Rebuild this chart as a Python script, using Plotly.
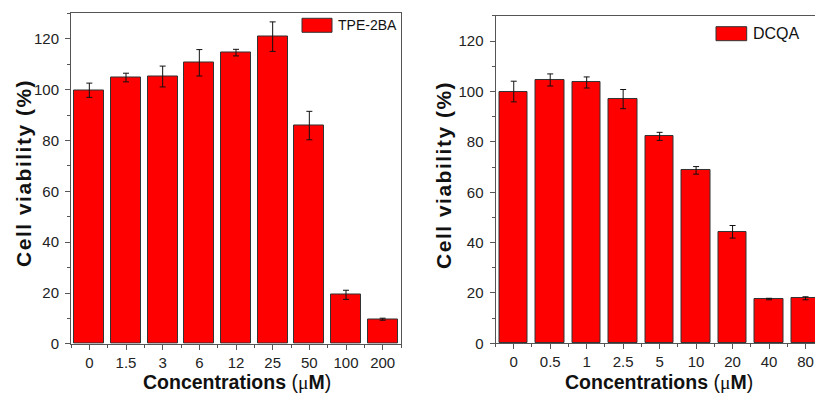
import plotly.graph_objects as go

W, H = 815, 398
K = 406 / 398  # the page capture squeezes the figure vertically by ~398/406

# ---- data ----
tpe_conc = ["0", "1.5", "3", "6", "12", "25", "50", "100", "200"]
tpe_viab = [99.8, 104.8, 105.2, 110.6, 114.6, 120.9, 85.9, 19.3, 9.7]
tpe_err = [2.8, 1.7, 4.1, 5.2, 1.3, 5.8, 5.6, 1.8, 0.4]

dcqa_conc = ["0", "0.5", "1", "2.5", "5", "10", "20", "40", "80"]
dcqa_viab = [100.0, 104.6, 103.6, 97.0, 82.2, 68.7, 44.3, 17.6, 17.9]
dcqa_err = [4.1, 2.4, 2.2, 3.8, 1.6, 1.5, 2.5, 0.3, 0.6]

y_ticks = [0, 20, 40, 60, 80, 100, 120]

FONT = "Arial, Liberation Sans, sans-serif"
AXC = "#555555"


def px(x):
    return x / W


def py(y):
    return max(0.0, 1 - y * K / H)


fig = go.Figure()

fig.add_trace(go.Bar(
    x=list(range(len(tpe_conc))), y=tpe_viab,
    error_y=dict(type="data", array=tpe_err, color="#111111", thickness=1, width=3),
    marker=dict(color="#ff0000", line=dict(color="#333333", width=1)),
    width=0.82, xaxis="x", yaxis="y", showlegend=False,
))
fig.add_trace(go.Bar(
    x=list(range(len(dcqa_conc))), y=dcqa_viab,
    error_y=dict(type="data", array=dcqa_err, color="#111111", thickness=1, width=3),
    marker=dict(color="#ff0000", line=dict(color="#333333", width=1)),
    width=0.78, xaxis="x2", yaxis="y2", showlegend=False,
))

tickfont = dict(family=FONT, size=15, color="#222222")

common_x = dict(
    showgrid=False, zeroline=False, showline=True, linecolor=AXC, linewidth=1,
    ticks="outside", ticklen=5, tickcolor=AXC, tickfont=tickfont,
    minor=dict(ticks="outside", ticklen=3, tick0=0.5, dtick=1, tickcolor=AXC, showgrid=False),
    mirror=True, fixedrange=True,
)
common_y = dict(
    showgrid=False, zeroline=False, showline=True, linecolor=AXC, linewidth=1,
    ticks="outside", ticklen=5, tickcolor=AXC, tickfont=tickfont,
    range=[0, 130], tickvals=y_ticks,
    minor=dict(ticks="outside", ticklen=3, tick0=10, dtick=20, tickcolor=AXC, showgrid=False),
    ticklabelstandoff=3,
)

fig.update_layout(
    width=W, height=H,
    margin=dict(l=0, r=0, t=0, b=0),
    paper_bgcolor="white", plot_bgcolor="white",
    font=dict(family=FONT, color="#111111"),
    bargap=0,
    xaxis=dict(common_x, domain=[px(71), px(401)], range=[-0.5, 8.5],
               tickvals=list(range(len(tpe_conc))), ticktext=tpe_conc, anchor="y"),
    yaxis=dict(common_y, domain=[py(344), py(13.5)], anchor="x", mirror=True),
    xaxis2=dict(common_x, domain=[px(495.5), 1.0], range=[-0.5, 8.26],
                tickvals=list(range(len(dcqa_conc))), ticktext=dcqa_conc, anchor="y2"),
    yaxis2=dict(common_y, domain=[py(343.5), py(16)], anchor="x2", mirror=False),
)

title_x = ("<b>Concentrations </b>(<span style='font-family:Liberation Serif'>μ</span>"
           "<b>M</b>)")
title_y = "<span style='letter-spacing:1.5px'><b>Cell viability (%)</b></span>"

annots = []
for cx in [236.5, 659]:
    annots.append(dict(text=title_x, x=px(cx), y=1 - 390 / H, xref="paper", yref="paper",
                       xanchor="center", yanchor="middle", showarrow=False,
                       font=dict(family=FONT, size=19.5, color="#111111")))
for cx, cy in [(24, 173), (444, 175)]:
    annots.append(dict(text=title_y, x=px(cx), y=py(cy), xref="paper", yref="paper",
                       xanchor="center", yanchor="middle", showarrow=False, textangle=-90,
                       font=dict(family=FONT, size=21, color="#111111")))

# legends (manual)
legends = [
    ("TPE-2BA", 302, 18.3, 332, 32.3, 14),
    ("DCQA", 716, 26.7, 746.7, 40.7, 16),
]
shapes = []
for name, x0, y0, x1, y1, fs in legends:
    shapes.append(dict(type="rect", xref="paper", yref="paper",
                       x0=px(x0), x1=px(x1), y0=py(y1), y1=py(y0),
                       fillcolor="#ff0000", line=dict(color="#333333", width=1)))
    annots.append(dict(text=name, x=px(x1 + 4), y=py((y0 + y1) / 2), xref="paper", yref="paper",
                       xanchor="left", yanchor="middle", showarrow=False,
                       font=dict(family=FONT, size=fs, color="#111111")))

fig.update_layout(annotations=annots, shapes=shapes)

fig.write_html("out.html")
